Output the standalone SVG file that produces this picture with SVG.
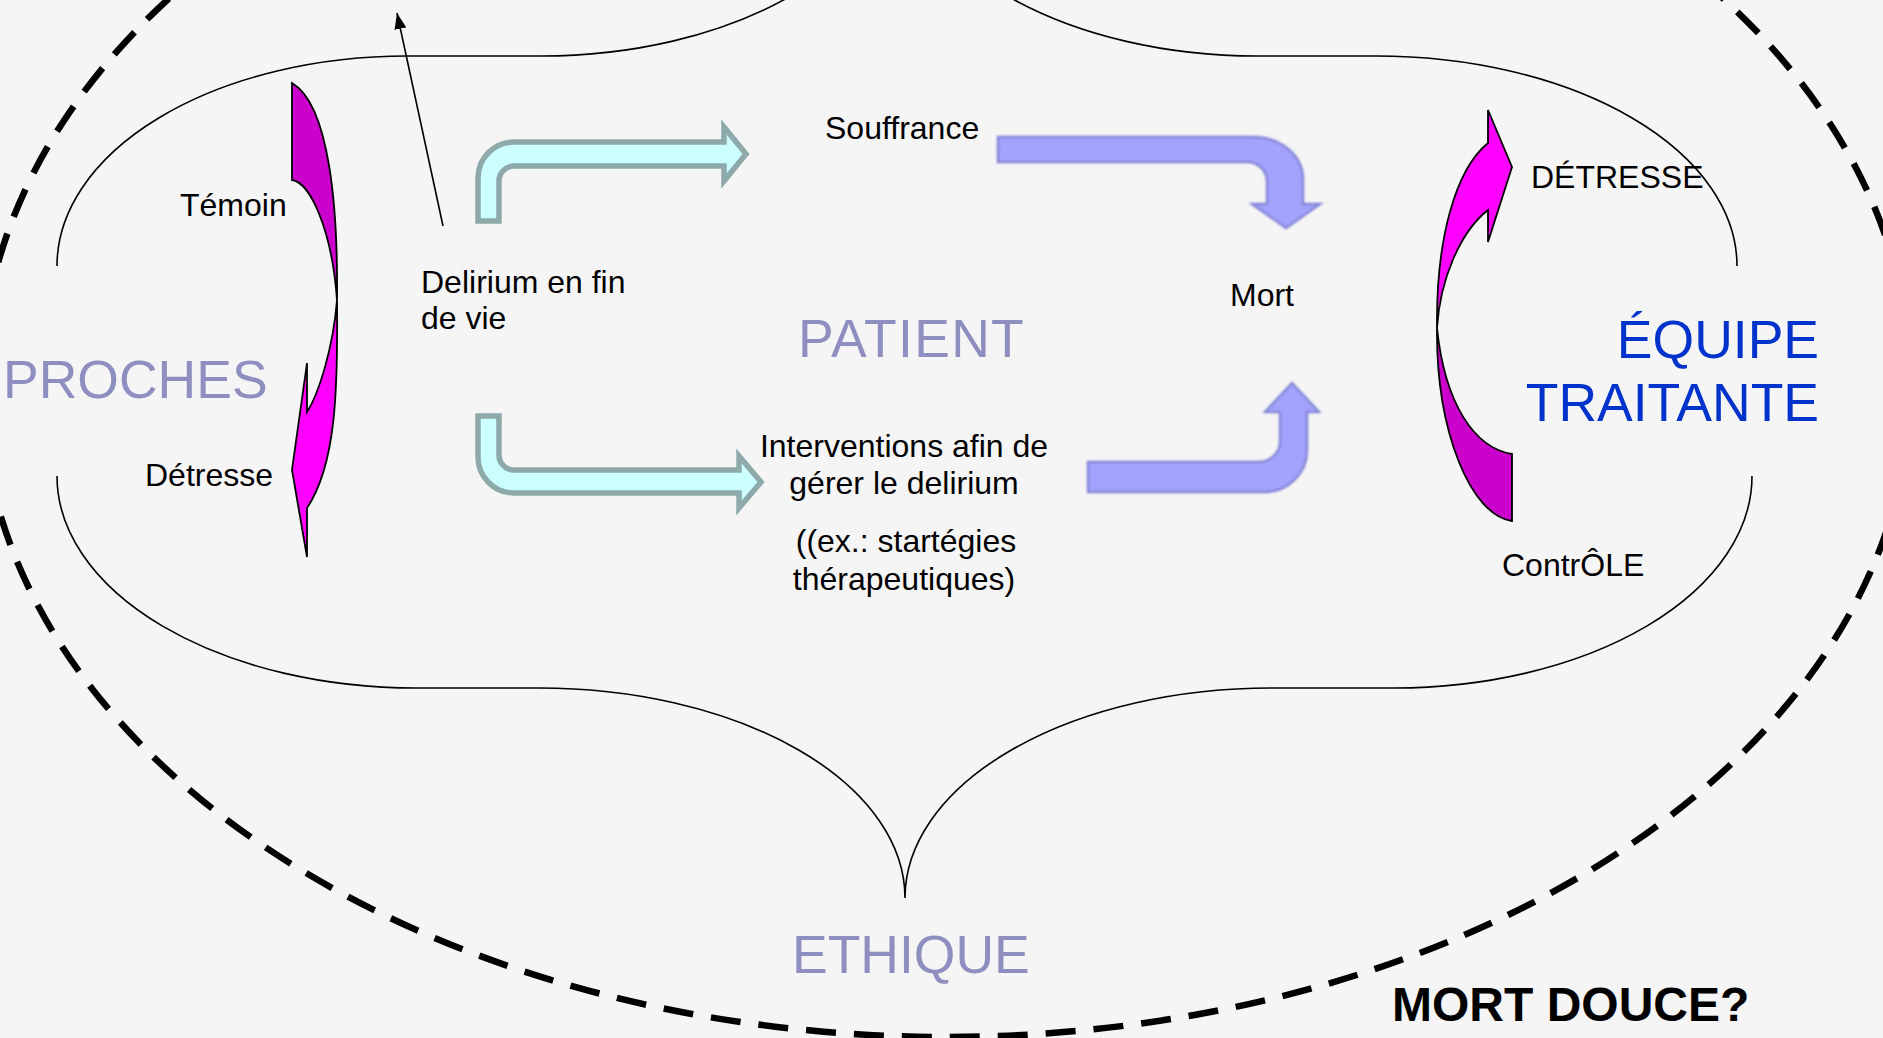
<svg xmlns="http://www.w3.org/2000/svg" width="1883" height="1038" viewBox="0 0 1883 1038">
<defs>
<style>
.t{font-family:"Liberation Sans",Arial,sans-serif;font-size:32px;fill:#000}
.big{font-family:"Liberation Sans",Arial,sans-serif;font-size:53.5px;fill:#8E8EC0}
.blue{font-family:"Liberation Sans",Arial,sans-serif;font-size:53.5px;fill:#0033CC}
.brace{fill:none;stroke:#000;stroke-width:1.6}
.cyan{fill:#CCFFFF;stroke:#8DA9A9;stroke-width:5.5;stroke-linejoin:miter}
.lav{fill:#A3A3FD;stroke:#8484D8;stroke-width:2.5;filter:url(#soft)}
.mag{stroke:#000;stroke-width:1.8;stroke-linejoin:miter}
</style>
<filter id="soft" x="-5%" y="-5%" width="110%" height="110%"><feGaussianBlur stdDeviation="0.9"/></filter>
<marker id="ah2" viewBox="0 0 16 12" refX="16" refY="6" markerWidth="16" markerHeight="12" markerUnits="userSpaceOnUse" orient="auto"><path d="M0,0 L16,6 L0,12 Z" fill="#000"/></marker>
</defs>
<rect width="1883" height="1038" fill="#F5F5F5"/>

<g id="frame">
<ellipse cx="946" cy="385" rx="965" ry="652" fill="none" stroke="#000" stroke-width="6.5" stroke-dasharray="30 18"/>
<path class="brace" d="M57,266 A350,210 0 0 1 407,56 L541,56 A358,212 0 0 0 899,-156 A358,212 0 0 0 1257,56 L1376,56 A361,210 0 0 1 1737,266"/>
<path class="brace" d="M57,476 A359,212 0 0 0 416,688 L539,688 A366,210 0 0 1 905,898 A366,210 0 0 1 1271,688 L1394,688 A358,212 0 0 0 1752,476"/>
</g>

<g id="proches-arrow">
<path class="mag" fill="#CC00CC" d="M292,83 L292,180 C310,182 332,230 337,300 C338,210 330,105 292,83 Z"/>
<path class="mag" fill="#FF00FF" d="M337,300 C338,390 336,465 307,508 L307,557 L292,470 L307,363 L307,412 C318,395 333,350 337,300 Z"/>
</g>

<g id="equipe-arrow">
<path class="mag" fill="#CC00CC" d="M1437,328 C1436,430 1470,515 1512,521 L1512,454 C1475,448 1445,405 1437,328 Z"/>
<path class="mag" fill="#FF00FF" d="M1437,328 C1436,240 1455,170 1488,143 L1488,110 L1512,167 L1488,242 L1488,210 C1460,232 1440,280 1437,328 Z"/>
</g>

<g id="connectors">
<line x1="443" y1="226" x2="397" y2="13" stroke="#000" stroke-width="1.6" marker-end="url(#ah2)"/>
<path class="cyan" d="M478,221 L478,178 A36,36 0 0 1 514,142 L724,142 L724,127 L746,154 L724,181 L724,166 L514,166 A15,15 0 0 0 499,181 L499,221 Z"/>
<path class="cyan" d="M478,416 L499,416 L499,455 A15,15 0 0 0 514,470 L739,470 L739,456 L761,482 L739,508 L739,493 L514,493 A36,36 0 0 1 478,457 Z"/>
<path class="lav" d="M998,137 L1253,137 A50,42 0 0 1 1303,179 L1303,204 L1320,204 L1286,228 L1252,204 L1267,204 L1267,181 A20,19 0 0 0 1247,162 L998,162 Z"/>
<path class="lav" d="M1088,462 L1258,462 A22,20 0 0 0 1280,442 L1280,412 L1265,412 L1292,383 L1319,412 L1307,412 L1307,450 A42,42 0 0 1 1265,492 L1088,492 Z"/>
</g>

<g id="node-proches">
<text class="big" x="3" y="398">PROCHES</text>
<text class="t" x="180" y="216">Témoin</text>
<text class="t" x="145" y="486">Détresse</text>
</g>
<g id="node-delirium">
<text class="t" x="421" y="293">Delirium en fin</text>
<text class="t" x="421" y="329">de vie</text>
</g>
<g id="node-patient">
<text class="big" x="798" y="357" letter-spacing="1.3">PATIENT</text>
</g>
<g id="node-souffrance">
<text class="t" x="825" y="139">Souffrance</text>
</g>
<g id="node-mort">
<text class="t" x="1230" y="306">Mort</text>
</g>
<g id="node-interventions">
<text class="t" text-anchor="middle" x="904" y="457">Interventions afin de</text>
<text class="t" text-anchor="middle" x="904" y="494">gérer le delirium</text>
<text class="t" text-anchor="middle" x="906" y="552">((ex.: startégies</text>
<text class="t" text-anchor="middle" x="904" y="590">thérapeutiques)</text>
</g>
<g id="node-equipe">
<text class="blue" text-anchor="end" x="1819" y="358">ÉQUIPE</text>
<text class="blue" text-anchor="end" x="1819" y="421">TRAITANTE</text>
<text class="t" x="1531" y="188">DÉTRESSE</text>
<text class="t" x="1502" y="576">ContrÔLE</text>
</g>
<g id="node-ethique">
<text class="big" x="792" y="973">ETHIQUE</text>
</g>
<g id="node-mort-douce">
<text x="1392" y="1021" font-family="Liberation Sans, Arial, sans-serif" font-size="48" font-weight="bold" fill="#000">MORT DOUCE?</text>
</g>
</svg>
